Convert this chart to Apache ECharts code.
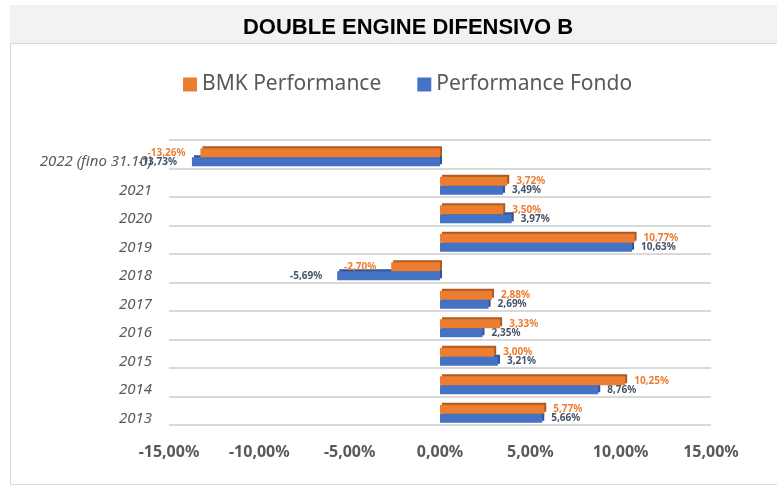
<!DOCTYPE html>
<html>
<head>
<meta charset="utf-8">
<script src="https://cdn.jsdelivr.net/npm/echarts@6/dist/echarts.min.js"></script>
<style>
  html, body { margin: 0; padding: 0; background: #fff; }
  #chart { width: 777px; height: 487px; }
</style>
</head>
<body>
<div id="chart"></div>
<script>
const years = ['2013', '2014', '2015', '2016', '2017', '2018', '2019', '2020', '2021', '2022 (fino 31.10)'];
const bmk = [5.77, 10.25, 3.00, 3.33, 2.88, -2.70, 10.77, 3.50, 3.72, -13.26];
const fondo = [5.66, 8.76, 3.21, 2.35, 2.69, -5.69, 10.63, 3.97, 3.49, -13.73];
const xTicks = [-15, -10, -5, 0, 5, 10, 15];

const pct = v => v.toFixed(2).replace('.', ',') + '%';

// labels sit outside the bar end, on the left for negative values
function withLabels(values, color) {
  return values.map(v => ({
    value: v,
    label: {
      position: v < 0 ? 'left' : 'right',
      distance: v < 0 ? 15 : 9,
      color: color
    }
  }));
}

const chart = echarts.init(document.getElementById('chart'));

const labelFont = { fontFamily: 'Noto Sans', fontSize: 10, fontWeight: 'bold' };
const hiddenAxis = { axisLabel: { show: false }, axisLine: { show: false }, axisTick: { show: false }, splitLine: { show: false } };

chart.setOption({
  animation: false,
  graphic: [
    { type: 'rect', shape: { x: 10, y: 5, width: 767, height: 38 }, style: { fill: '#f2f2f2' }, silent: true },
    { type: 'rect', shape: { x: 10.5, y: 43.5, width: 770, height: 441 }, style: { fill: 'none', stroke: '#d9d9d9', lineWidth: 1 }, silent: true }
  ],
  title: {
    text: 'DOUBLE ENGINE DIFENSIVO B',
    left: 403,
    textAlign: 'center',
    top: 12,
    textStyle: { fontFamily: 'Liberation Sans', fontSize: 22, fontWeight: 'bold', color: '#000' }
  },
  legend: {
    top: 69,
    left: 178,
    itemWidth: 14,
    itemHeight: 14,
    itemGap: 36,
    icon: 'rect',
    data: ['BMK Performance', 'Performance Fondo'],
    textStyle: { fontFamily: 'Noto Sans', fontSize: 21, color: '#595959' }
  },
  grid: [
    { left: 169, right: 66, top: 140, bottom: 62 },
    { left: 169, right: 66, top: 143, bottom: 59 }
  ],
  xAxis: [
    {
      type: 'value', gridIndex: 0, min: xTicks[0], max: xTicks[xTicks.length - 1], interval: 5,
      axisLine: { show: false }, axisTick: { show: false }, splitLine: { show: false },
      axisLabel: {
        margin: 19,
        fontFamily: 'Noto Sans', fontSize: 16, fontWeight: 'bold', color: '#595959',
        formatter: v => pct(v)
      }
    },
    Object.assign({ type: 'value', gridIndex: 1, min: -15, max: 15, interval: 5 }, hiddenAxis)
  ],
  yAxis: [
    {
      type: 'category', gridIndex: 0, data: years,
      axisLine: { show: false }, axisTick: { show: false },
      splitLine: { show: true, lineStyle: { color: '#d9d9d9', width: 2 } },
      axisLabel: {
        margin: 17, fontFamily: 'Noto Sans', fontStyle: 'italic', fontSize: 15, color: '#595959',
        verticalAlign: 'top'
      }
    },
    Object.assign({ type: 'category', gridIndex: 1, data: years }, hiddenAxis)
  ],
  series: [
    {
      name: 'BMK Performance',
      type: 'bar',
      xAxisIndex: 1,
      yAxisIndex: 1,
      z: 3,
      barWidth: 9,
      barGap: '0%',
      data: withLabels(bmk, '#ed7d31'),
      itemStyle: { color: '#ed7d31', shadowColor: '#ae5a21', shadowOffsetX: 2, shadowOffsetY: -2, shadowBlur: 0 },
      label: Object.assign({ show: true, formatter: p => pct(p.value) }, labelFont)
    },
    {
      name: 'Performance Fondo',
      type: 'bar',
      xAxisIndex: 1,
      yAxisIndex: 1,
      z: 2,
      barWidth: 9,
      barGap: '0%',
      data: withLabels(fondo, '#44546a'),
      itemStyle: { color: '#4472c4', shadowColor: '#2f5597', shadowOffsetX: 2, shadowOffsetY: -2, shadowBlur: 0 },
      label: Object.assign({ show: true, formatter: p => pct(p.value) }, labelFont)
    }
  ]
});
</script>
</body>
</html>
